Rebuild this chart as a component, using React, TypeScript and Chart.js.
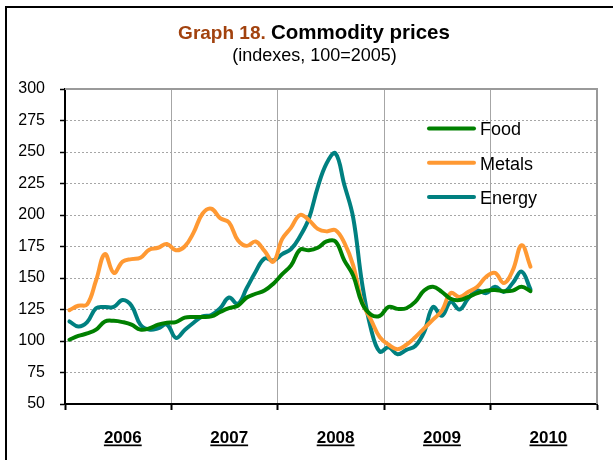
import React, { useEffect, useRef } from "react";
import { Chart, registerables } from "chart.js";

Chart.register(...registerables);

const years = ["2006", "2007", "2008", "2009", "2010"];
const yTickValues = [50, 75, 100, 125, 150, 175, 200, 225, 250, 275, 300];
const seriesNames = ["Food", "Metals", "Energy"];
const seriesColors = ["#008000", "#FF9933", "#008080"];

// monthly values, Jan 2006 .. May 2010
const food = [
  101, 104, 106, 109, 115.5, 116, 115, 113, 109, 110, 113, 114.5,
  115, 118.5, 119, 119, 119.5, 123, 126, 128, 134.5, 137.5, 140, 145.5,
  153, 160, 172.5, 172, 174, 179, 179, 164, 152, 130, 121, 120,
  127, 125.5, 126, 131, 140, 143, 139, 133.5, 132.5, 135, 138, 140,
  140.5, 139.5, 140, 143, 139.5,
];
const metals = [
  124.5, 128, 129, 148, 169, 154, 163, 165, 166, 172.5, 174, 177,
  172, 175, 186, 201, 205, 197.5, 194, 180, 175.5, 179, 171.5, 163,
  181, 190, 200, 196, 189, 187, 188, 178, 160, 131, 117, 103,
  97, 93.5, 97, 103, 110, 117, 124, 138, 135, 139, 143, 151,
  154, 146, 156, 176, 159,
];
const energy = [
  115.5, 111.5, 115, 126, 127, 127, 132.5, 128, 113, 109, 110, 113,
  102.5, 108.7, 114.5, 119.5, 120.6, 126, 134.5, 129.5, 142, 155, 165.5, 164,
  169, 173, 183, 197, 222, 241, 249, 224, 198, 146, 110, 91.5,
  95, 89.5, 93, 96, 107, 127, 120, 131, 125, 134, 140, 138,
  143, 139, 146, 155, 141,
];

const allSeries = [food, metals, energy];

function hasFont(name: string): boolean {
  const c = document.createElement("canvas").getContext("2d");
  if (!c) return false;
  const sample = "300 275 abcMWgl";
  c.font = "20px monospace";
  const w1 = c.measureText(sample).width;
  c.font = `20px "${name}", monospace`;
  const w2 = c.measureText(sample).width;
  return Math.abs(w1 - w2) > 0.5;
}

const decorPlugin = {
  id: "decor",
  afterDraw(chart: any) {
    const { ctx, chartArea: a, scales } = chart;
    const x = scales.x;
    ctx.save();

    // outer frame (top and left visible)
    ctx.strokeStyle = "#000";
    ctx.lineWidth = 2;
    ctx.beginPath();
    ctx.moveTo(6, 470);
    ctx.lineTo(6, 7);
    ctx.lineTo(620, 7);
    ctx.stroke();

    // plot top / right border
    ctx.strokeStyle = "#9a9a9a";
    ctx.lineWidth = 2;
    ctx.beginPath();
    ctx.moveTo(a.left, a.top);
    ctx.lineTo(a.right, a.top);
    ctx.lineTo(a.right, a.bottom);
    ctx.stroke();

    // title
    const t1 = "Graph 18. ";
    const t2 = "Commodity prices";
    const f1 = "bold 19px 'Liberation Sans', Arial, sans-serif";
    const f2 = "bold 20.5px 'Liberation Sans', Arial, sans-serif";
    ctx.font = f1;
    const w1 = ctx.measureText(t1).width;
    ctx.font = f2;
    const w2 = ctx.measureText(t2).width;
    const cx = 314;
    const sx = cx - (w1 + w2) / 2;
    ctx.textBaseline = "alphabetic";
    ctx.textAlign = "left";
    ctx.font = f1;
    ctx.fillStyle = "#A2420E";
    ctx.fillText(t1, sx, 39);
    ctx.font = f2;
    ctx.fillStyle = "#000";
    ctx.fillText(t2, sx + w1, 39);

    ctx.font = "18px 'Liberation Sans', Arial, sans-serif";
    ctx.textAlign = "center";
    ctx.fillText("(indexes, 100=2005)", 314.5, 61);

    // year labels, bold underlined
    ctx.font = "bold 17px 'Liberation Sans', Arial, sans-serif";
    ctx.textAlign = "left";
    years.forEach((yr, k) => {
      const px = x.getPixelForValue(12 * k + 6) + 4.6;
      const w = ctx.measureText(yr).width;
      ctx.fillStyle = "#000";
      ctx.fillText(yr, px - w / 2, 442.5);
      ctx.fillRect(px - w / 2, 444.5, w, 1.7);
    });

    // legend
    const ly = [128.5, 162.8, 197];
    ctx.font = "18px 'Liberation Sans', Arial, sans-serif";
    seriesNames.forEach((n, i) => {
      ctx.strokeStyle = seriesColors[i];
      ctx.lineWidth = 4;
      ctx.lineCap = "round";
      ctx.beginPath();
      ctx.moveTo(429, ly[i]);
      ctx.lineTo(474, ly[i]);
      ctx.stroke();
      ctx.fillStyle = "#000";
      ctx.textAlign = "left";
      ctx.fillText(n, 480, ly[i] + 6.7);
    });

    ctx.restore();
  },
};

export default function App() {
  const ref = useRef<HTMLCanvasElement>(null);

  useEffect(() => {
    if (!ref.current) return;
    const narrow = hasFont("Liberation Sans Narrow");
    const yFont = narrow
      ? { family: "'Liberation Sans Narrow'", size: 18 }
      : { family: "'Liberation Sans', Arial, sans-serif", size: 16 };

    const chart = new Chart(ref.current, {
      type: "line",
      data: {
        datasets: allSeries.map((s, i) => ({
          label: seriesNames[i],
          data: s.map((v, j) => ({ x: j + 0.5, y: v })),
          borderColor: seriesColors[i],
          backgroundColor: seriesColors[i],
          borderWidth: 4,
          pointRadius: 0,
          tension: 0.4,
          fill: false,
          borderCapStyle: "round",
          borderJoinStyle: "round",
        })),
      },
      options: {
        animation: false,
        responsive: false,
        devicePixelRatio: 1,
        layout: { padding: { top: 89, right: 16, left: 0, bottom: 0 } },
        plugins: {
          legend: { display: false },
          title: { display: false },
          tooltip: { enabled: false },
        },
        scales: {
          x: {
            type: "linear",
            min: 0,
            max: 60,
            afterBuildTicks: (scale: any) => {
              scale.ticks = [0, 12, 24, 36, 48, 60].map((v) => ({ value: v }));
            },
            afterFit: (scale: any) => {
              scale.height = 56;
            },
            ticks: { display: false },
            grid: {
              color: "#a6a6a6",
              lineWidth: 1,
              drawTicks: true,
              tickLength: 6,
              tickColor: "#000",
              tickWidth: 2,
            },
            border: { display: true, color: "#000", width: 2 },
          },
          y: {
            type: "linear",
            min: 50,
            max: 300,
            afterBuildTicks: (scale: any) => {
              scale.ticks = yTickValues.map((v) => ({ value: v }));
            },
            afterFit: (scale: any) => {
              scale.width = 65;
            },
            ticks: {
              color: "#000",
              padding: 15,
              font: yFont as any,
            },
            grid: {
              color: "#a6a6a6",
              lineWidth: 1,
              drawTicks: true,
              tickLength: 5,
              tickColor: "#000",
              tickWidth: 1.5,
            },
            border: { display: true, color: "#000", width: 2, dash: [2, 2] },
          },
        },
      },
      plugins: [decorPlugin],
    });
    return () => chart.destroy();
  }, []);

  return (
    <div style={{ position: "fixed", left: 0, top: 0, width: 613, height: 460, background: "#fff" }}>
      <canvas ref={ref} width={613} height={460} style={{ display: "block" }} />
    </div>
  );
}
